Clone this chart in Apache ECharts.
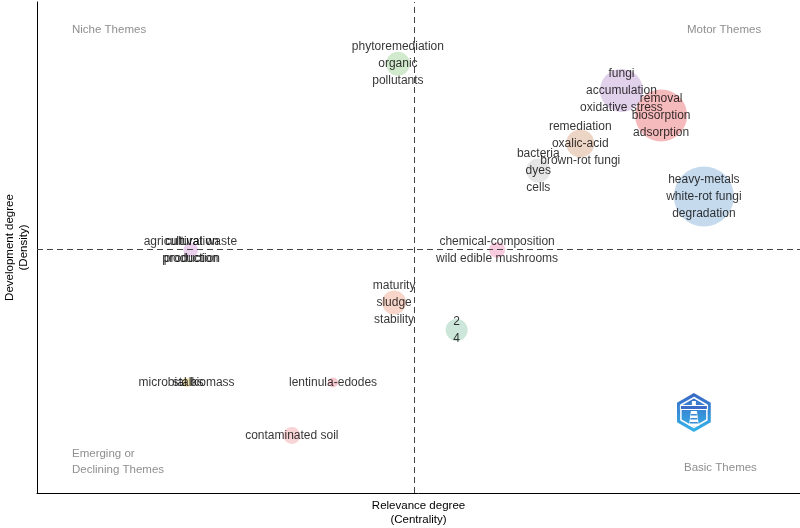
<!DOCTYPE html>
<html>
<head>
<meta charset="utf-8">
<script src="https://cdn.jsdelivr.net/npm/echarts@6/dist/echarts.min.js"></script>
<style>html,body{margin:0;padding:0;background:#fff}#c{width:800px;height:528px}</style>
</head>
<body>
<div id="c"></div>
<script>
// Cluster labels (words shown for each theme)
const clusterLabels = [
  ["phytoremediation", "organic", "pollutants"],
  ["fungi", "accumulation", "oxidative stress"],
  ["removal", "biosorption", "adsorption"],
  ["remediation", "oxalic-acid", "brown-rot fungi"],
  ["bacteria", "dyes", "cells"],
  ["heavy-metals", "white-rot fungi", "degradation"],
  ["chemical-composition", "wild edible mushrooms"],
  ["maturity", "sludge", "stability"],
  ["2", "4"],
  ["agricultural waste", "production"],
  ["cultivation", "production"],
  ["microbial biomass"],
  ["stalks"],
  ["lentinula-edodes"],
  ["contaminated soil"]
];
// Centrality (x) and density (y), relative units
const centrality = [47.3, 76.6, 81.8, 71.2, 65.7, 87.4, 60.3, 46.8, 55.0, 20.1, 20.3, 19.6, 19.8, 38.8, 33.4];
const density    = [87.4, 82.0, 76.9, 71.2, 65.7, 60.4, 49.5, 38.8, 33.2, 49.5, 49.5, 22.5, 22.5, 22.5, 11.7];
// Bubble size (frequency-based)
const bubbleSize = [24, 43, 52, 28, 24, 60, 16, 24, 22, 14, 13, 9, 8, 10, 17];
const bubbleColors = ["#c6e3c0", "#d9c6e6", "#f3a9ab", "#e9cbb8", "#e0e0e0", "#b8d1e9", "#f6bfd6",
  "#f6cbbb", "#bfe0d0", "#e2c6e6", "#ead0ec", "#f3e3a8", "#ece0b0", "#f5bcc4", "#f6c9cc"];
const meanCentrality = 49.5;
const meanDensity = 49.6;

const FONT = "Liberation Sans, Arial, sans-serif";

const data = clusterLabels.map((words, i) => ({
  value: [centrality[i], density[i]],
  symbolSize: bubbleSize[i],
  itemStyle: { color: bubbleColors[i] },
  label: { formatter: words.join("\n") }
}));

function hexPoints(cx, cy, r) {
  const pts = [];
  for (let k = 0; k < 6; k++) {
    const a = Math.PI / 180 * (60 * k - 90);
    pts.push([cx + r * Math.cos(a), cy + r * Math.sin(a)]);
  }
  return pts;
}

const chart = echarts.init(document.getElementById("c"), null, { renderer: "canvas" });
chart.setOption({
  animation: false,
  backgroundColor: "#fff",
  grid: { left: 37, right: 0, top: 2, bottom: 35, containLabel: false, outerBoundsMode: "none" },
  xAxis: {
    type: "value", min: 0, max: 100,
    name: "Relevance degree\n(Centrality)", nameLocation: "middle", nameGap: 6,
    nameTextStyle: { fontFamily: FONT, fontSize: 11.5, color: "#000", lineHeight: 14, verticalAlign: "top" },
    axisLine: { show: true, lineStyle: { color: "#000", width: 1 } },
    axisTick: { show: false }, axisLabel: { show: false }, splitLine: { show: false }
  },
  yAxis: {
    type: "value", min: 0, max: 100,
    name: "Development degree\n(Density)", nameLocation: "middle", nameGap: 6,
    nameTextStyle: { fontFamily: FONT, fontSize: 11.5, color: "#000", lineHeight: 14, verticalAlign: "bottom" },
    axisLine: { show: true, lineStyle: { color: "#000", width: 1 } },
    axisTick: { show: false }, axisLabel: { show: false }, splitLine: { show: false }
  },
  series: [{
    type: "scatter",
    data: data,
    symbol: "circle",
    label: {
      show: true, position: "inside", color: "#000",
      fontFamily: FONT, fontSize: 12, lineHeight: 17
    },
    labelLayout: { hideOverlap: false },
    markLine: {
      silent: true, symbol: "none",
      label: { show: false },
      lineStyle: { color: "#444", type: [6, 4], width: 1 },
      data: [{ xAxis: meanCentrality }, { yAxis: meanDensity }]
    },
    z: 3
  }],
  graphic: [
    { type: "text", left: 72, top: 24, style: { text: "Niche Themes", fill: "#8f8f8f", font: "11.5px " + FONT } },
    { type: "text", left: 687, top: 24, style: { text: "Motor Themes", fill: "#8f8f8f", font: "11.5px " + FONT } },
    { type: "text", left: 72, top: 446, style: { text: "Emerging or\nDeclining Themes", fill: "#8f8f8f", font: "11.5px " + FONT, lineHeight: 16 } },
    { type: "text", left: 684, top: 462, style: { text: "Basic Themes", fill: "#8f8f8f", font: "11.5px " + FONT } },
    {
      type: "group", left: 677, top: 393,
      children: [
        { type: "polygon", shape: { points: hexPoints(19, 19.5, 19.5) },
          style: { fill: new echarts.graphic.LinearGradient(0, 0, 0, 1, [{ offset: 0, color: "#3a66c4" }, { offset: 1, color: "#35b4ea" }]) } },
        { type: "polygon", shape: { points: hexPoints(19, 19.5, 15) },
          style: { fill: "none", stroke: "#fff", lineWidth: 1.5 } },
        { type: "rect", shape: { x: 5, y: 12, width: 28, height: 5 }, style: { fill: "#fff" } },
        { type: "rect", shape: { x: 6, y: 13, width: 26, height: 3 }, style: { fill: "#3a6cc8" } },
        { type: "polygon", shape: { points: [[16, 18], [22, 18], [24, 33], [14, 33]] }, style: { fill: "#fff" } },
        { type: "rect", shape: { x: 16, y: 21, width: 6, height: 1.5 }, style: { fill: "#3a8ad8" } },
        { type: "rect", shape: { x: 15.5, y: 25, width: 7, height: 1.5 }, style: { fill: "#3a8ad8" } },
        { type: "rect", shape: { x: 15, y: 29, width: 8, height: 1.5 }, style: { fill: "#3a8ad8" } },
        { type: "rect", shape: { x: 17, y: 8, width: 4, height: 4 }, style: { fill: "#fff" } }
      ]
    }
  ]
});
</script>
</body>
</html>
